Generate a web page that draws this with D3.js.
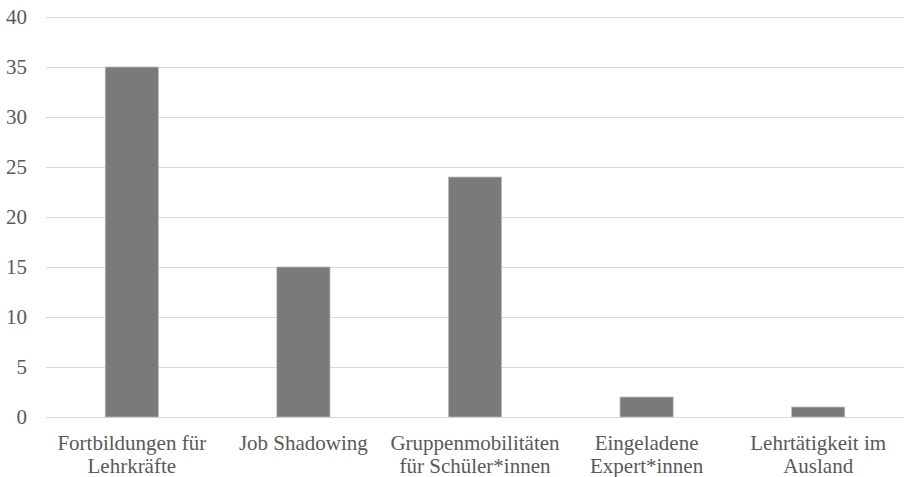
<!DOCTYPE html>
<html>
<head>
<meta charset="utf-8">
<script src="https://cdn.jsdelivr.net/npm/d3@7"></script>
<style>
  html, body { margin: 0; padding: 0; background: #fff; }
  svg { display: block; }
  text { font-family: "Liberation Serif", "Times New Roman", serif; fill: #595959; }
</style>
</head>
<body>
<svg id="chart" width="906" height="477"></svg>
<script>
// Activity categories (two-line labels) and their counts
const categories = [
  ["Fortbildungen für", "Lehrkräfte"],
  ["Job Shadowing"],
  ["Gruppenmobilitäten", "für Schüler*innen"],
  ["Eingeladene", "Expert*innen"],
  ["Lehrtätigkeit im", "Ausland"]
];
const values = [35, 15, 24, 2, 1];
const yTicks = [0, 5, 10, 15, 20, 25, 30, 35, 40];

const svg = d3.select("#chart");
const margin = { left: 46, right: 2, top: 17, bottom: 60 };
const width = 906, height = 477;
const fontFamily = '"Liberation Serif", "Times New Roman", serif';

const x = d3.scaleBand()
  .domain(categories.map((c, i) => i))
  .range([margin.left, width - margin.right]);

const y = d3.scaleLinear()
  .domain([0, 40])
  .range([height - margin.bottom, margin.top]);

// Horizontal gridlines
svg.append("g")
  .selectAll("line")
  .data(yTicks)
  .join("line")
  .attr("x1", margin.left)
  .attr("x2", width - margin.right)
  .attr("y1", d => Math.round(y(d)) + 0.5)
  .attr("y2", d => Math.round(y(d)) + 0.5)
  .attr("stroke", "#d9d9d9")
  .attr("stroke-width", 1);

// Y axis labels
const yAxis = svg.append("g")
  .attr("transform", `translate(${margin.left},0)`)
  .call(d3.axisLeft(y).tickValues(yTicks).tickSize(0).tickPadding(19));
yAxis.select(".domain").remove();
yAxis.selectAll("text")
  .style("font-family", fontFamily)
  .style("font-size", "21px")
  .attr("fill", "#595959");

// Bars
const barW = x.bandwidth() * 0.31;
svg.append("g")
  .selectAll("rect")
  .data(values)
  .join("rect")
  .attr("x", (d, i) => x(i) + (x.bandwidth() - barW) / 2)
  .attr("y", d => y(d))
  .attr("width", barW)
  .attr("height", d => y(0) - y(d))
  .attr("fill", "#7a7a7a")
  .attr("stroke", "#bfbfbf")
  .attr("stroke-width", 0.75);

// Category labels
const labels = svg.append("g")
  .selectAll("text")
  .data(categories)
  .join("text")
  .attr("x", (d, i) => x(i) + x.bandwidth() / 2)
  .attr("y", y(0) + 33)
  .attr("text-anchor", "middle")
  .style("font-family", fontFamily)
  .style("font-size", "21px");
labels.selectAll("tspan")
  .data(d => d)
  .join("tspan")
  .attr("x", function () { return d3.select(this.parentNode).attr("x"); })
  .attr("dy", (d, i) => i === 0 ? 0 : 23)
  .text(d => d);
</script>
</body>
</html>
